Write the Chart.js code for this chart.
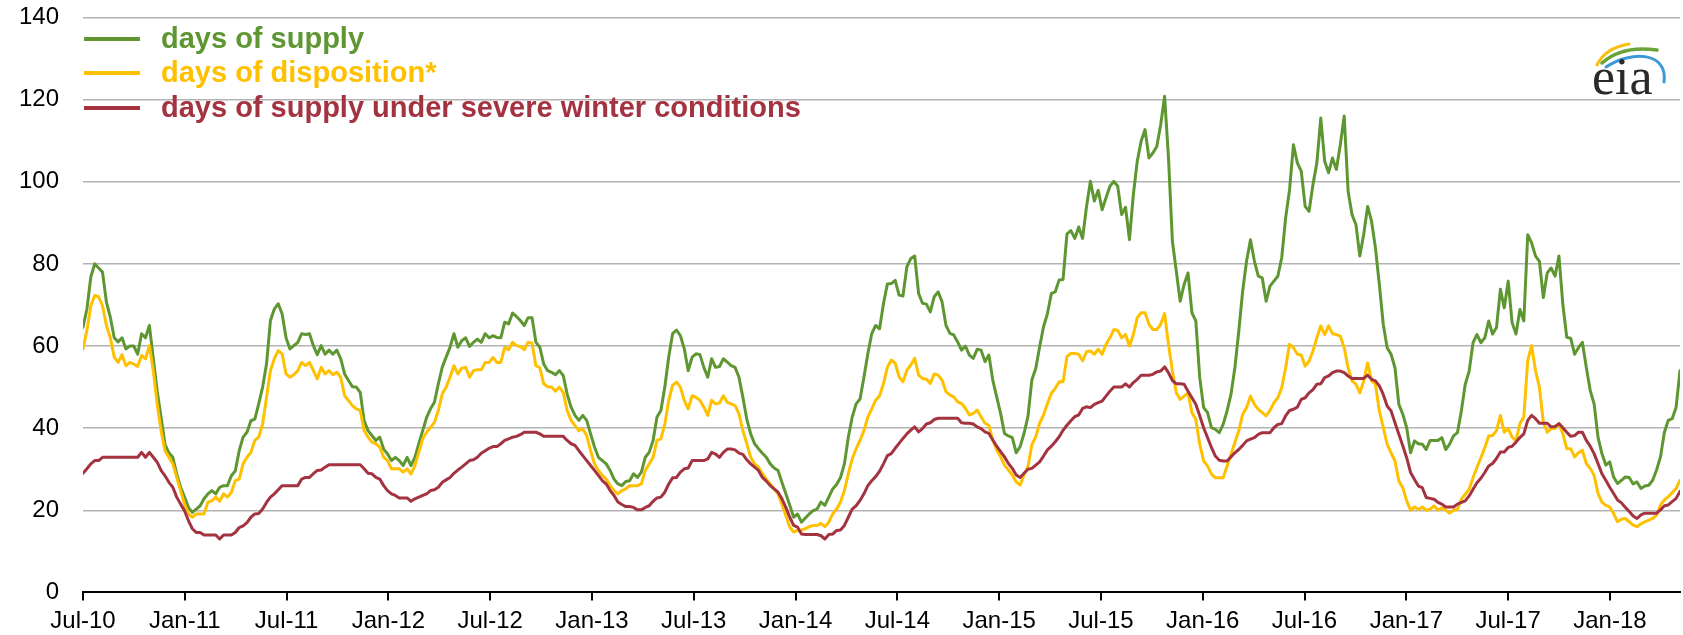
<!DOCTYPE html>
<html>
<head>
<meta charset="utf-8">
<script src="https://cdn.jsdelivr.net/npm/chart.js@4/dist/chart.umd.min.js"></script>
<style>
  html, body { margin: 0; padding: 0; background: #ffffff; }
  #wrap { width: 1683px; height: 635px; }
</style>
</head>
<body>
<div id="wrap"><canvas id="c" width="1683" height="635"></canvas></div>
<script>
// ---- Data (weekly, starting first week of July 2010) ----
const seriesNames = ['days of supply', 'days of disposition*', 'days of supply under severe winter conditions'];
const tickLabels = ['Jul-10','Jan-11','Jul-11','Jan-12','Jul-12','Jan-13','Jul-13','Jan-14','Jul-14','Jan-15','Jul-15','Jan-16','Jul-16','Jan-17','Jul-17','Jan-18'];

const daysOfSupply = [
64.6, 69, 76.8, 80, 79, 78, 70.7, 67, 62, 61, 62, 59.3, 60, 60, 58, 63, 62, 65, 57, 49, 42.6, 36, 34, 32.9, 28.8, 25.6, 23.2, 20.7, 19.5, 20.3, 21.1, 22.8, 24, 24.8, 24, 25.6, 26, 26, 28.4, 29.6, 34.5, 37.8, 39, 41.8, 42.2, 45.9, 50, 55.6, 66.2, 69, 70.3, 67.8, 62, 59.3,
60.1, 60.9, 63, 62.8, 63, 60.1, 57.9, 60.1, 58, 59, 58, 59, 56.9, 53.2, 51.6, 50.1, 50, 48.7, 41.8, 39.4, 38.2, 37, 37.8, 34.9, 33.7, 32.1, 32.9, 32.1, 30.9, 32.9, 30.9, 32.9, 36.2, 39.4, 42.6, 44.7, 46.3, 50.8, 54.8, 57.3, 59.7, 63, 59.7, 61.3, 62, 59.9, 60.9, 61.7, 60.9, 63, 62, 62.5,
62.1, 62, 65.8, 65.4, 68, 67.2, 66.2, 65, 66.9, 66.9, 60.9, 59.7, 55.6, 54, 53.6, 53, 54, 52.8, 48.3, 45.1, 43.1, 41.9, 43.1, 41.9, 38.6, 35.4, 32.9, 32.1, 31.3, 29.7, 27.6, 26.4, 26, 27, 27.2, 28.9, 28, 29.3, 32.9, 34.1, 37, 42.7, 44.3, 50, 57.3, 63, 63.9, 62.5, 59.3, 54,
57.3, 58.1, 57.9, 54.8, 52.4, 56.9, 54.8, 55, 56.9, 56.1, 55.2, 54.8, 52.4, 47.5, 42.2, 38.6, 36.2, 35, 33.9, 32.9, 31.3, 30.3, 29.7, 26.8, 24, 21.2, 18.3, 19.1, 17.1, 18.1, 19.1, 19.9, 20.3, 22, 21.2, 23.2, 25.2, 26.3, 28, 31.3, 37.8, 42.7, 45.9, 47.1, 52.4, 58.1, 63, 65, 64.2, 70.3, 75.1,
75.2, 76, 72.4, 72.2, 79.3, 81.3, 81.9, 72.8, 70.4, 70.2, 68.3, 72, 73.2, 70.8, 65.1, 63.1, 62.7, 61, 59, 60, 57.8, 57, 59.2, 59, 56.2, 57.8, 51.7, 47.6, 43.6, 38.7, 38.1, 37.7, 34, 35.5, 38.7, 42.8, 51.7, 54.5, 59.8, 64.7, 67.9, 72.8, 73.2, 76.1, 76.2, 87.3, 88.1, 86.2, 89, 86.2, 93.9,
100.1, 95.3, 97.9, 93.2, 96.1, 98.9, 100.1, 98.9, 92, 93.8, 85.9, 96.9, 105, 109.9, 112.7, 105.8, 107, 108.6, 113.9, 120.8, 105.8, 85.5, 78.2, 70.9, 75, 77.8, 68.1, 66.1, 52.3, 45, 43.8, 40.1, 39.7, 38.9, 40.9, 44.2, 48.2, 54.7, 63.6, 73.4, 80.7, 85.9, 80.7, 77, 76.6, 70.9, 74.6, 75.8, 77, 81.5, 91.2, 98,
109, 104.6, 102.6, 94, 92.8, 99.3, 104.6, 115.5, 105, 102.2, 105.8, 103, 109, 116, 97.7, 92, 89.6, 81.9, 87.2, 94, 90.4, 83.9, 75, 65.3, 59.6, 58, 54.7, 45.8, 43.4, 40.1, 34, 36.9, 36.2, 36.1, 34.8, 37, 37, 37, 37.7, 34.8, 36.1, 38.1, 38.9, 44.2, 50.7, 53.9, 60.8, 62.8, 60.8, 62, 66.1,
62.9, 64.5, 73.8, 69.3, 75.8, 65.7, 62.9, 68.9, 66.1, 87.1, 85.1, 81.9, 80.6, 71.8, 77.8, 79, 77, 81.9, 70.1, 62.1, 61.9, 58, 59.6, 60.9, 54.8, 49.2, 45.9, 37.8, 33.8, 31, 31.8, 28.1, 26.5, 27.3, 28.1, 28, 26.4, 26.9, 25.3, 25.9, 26.1, 27.3, 29.8, 33, 39, 41.9, 42.3, 45.1, 54
];

const daysOfDisposition = [
59.3, 63.8, 69.8, 72.3, 72, 69.8, 65, 62, 57.3, 56, 57.9, 55.2, 56, 55.6, 55, 57.7, 56.9, 60.1, 54, 45.9, 39.4, 34.5, 32.9, 31.3, 28, 24.8, 21.5, 19.1, 18.3, 19.1, 19.1, 19.1, 22, 22.3, 23.2, 22.2, 24, 23.2, 24.4, 27.2, 27.6, 31.3, 32.9, 34.1, 37, 37.8, 41, 47.5, 54, 56.9, 58.9, 58.1, 53.2, 52.4,
53, 54, 56, 55.2, 56, 54, 52, 54.8, 53.2, 54, 53, 53.6, 52.4, 47.9, 46.7, 45.5, 44.7, 44.3, 39.4, 37.8, 36.6, 36.2, 35.4, 32.9, 32.1, 30.1, 30.1, 30.1, 29.3, 30.1, 28.8, 30.9, 34.1, 37.4, 39, 40.2, 41.4, 44.3, 48.3, 50, 52.4, 55.2, 53.2, 54.6, 54.8, 52.4, 54, 54.2, 54.2, 56, 56, 57.2,
56, 56, 59.7, 59.1, 60.9, 60.1, 59.9, 59.1, 60.9, 60.7, 55.2, 54.7, 50.8, 50.1, 50, 49, 50, 48.7, 44.3, 41.9, 40.6, 39.4, 39.8, 38.2, 34.5, 31.3, 29.7, 28.5, 27.6, 26, 24.8, 24, 24.8, 25.2, 26, 26, 26, 26.4, 29.7, 31.3, 32.9, 37, 37.4, 41, 46.7, 50.4, 51.2, 50, 46.7, 44.7,
47.9, 47.5, 46.8, 45.1, 43.1, 46.8, 45.9, 46.1, 47.9, 46.3, 45.9, 45.5, 43.5, 39.4, 36.2, 32.9, 31.3, 30.5, 28.9, 27.6, 26.4, 25.2, 24, 21.5, 18.7, 15.9, 14.7, 15.1, 15.2, 15.5, 16, 16.3, 16.3, 16.8, 16, 17.1, 19.1, 20.3, 22, 24.8, 28.9, 32.5, 35, 37, 39.4, 42.7, 44.7, 46.8, 47.9, 50.8, 54.8,
56.6, 55.8, 52.5, 51.3, 54.1, 55.4, 57, 52.9, 52.1, 51.9, 50.9, 53.2, 52.9, 51.7, 48.9, 48.1, 47.6, 46.4, 46, 44.8, 43.2, 43.6, 44.4, 42.8, 41.2, 40.7, 37.1, 34.7, 33, 31, 29.8, 28.6, 26.9, 26.1, 28.6, 30.6, 35.9, 37.9, 41.2, 43.2, 46, 48.5, 49.7, 51.3, 51.3, 57.4, 58.2, 58.2, 58, 56.4, 58.6,
58.8, 58, 59.2, 58, 60.4, 62, 64, 63.8, 62, 62.8, 60, 62.8, 66.9, 68.1, 68.1, 65.3, 64, 64, 65.3, 67.9, 60.4, 53.9, 48.6, 47, 47.8, 48.6, 43.8, 42.1, 36.1, 32, 30.8, 28.8, 27.9, 27.9, 27.9, 30.8, 33.6, 36.5, 39.3, 43.4, 45, 47.8, 45.8, 44.6, 43.8, 43, 44.3, 46.2, 47.4, 49.8, 54.7, 60.4,
59.6, 58, 57.8, 55.1, 56.3, 58.8, 62, 64.9, 62.8, 64.9, 63, 62.8, 62.4, 59.6, 54.7, 51.5, 50.7, 48.6, 51.5, 55.9, 51.5, 50.7, 44.2, 40.1, 36.1, 34, 32, 27.1, 25.5, 22.3, 20, 20.8, 20.2, 20.8, 20, 20.2, 21.1, 20, 20.6, 20, 19.3, 20, 20.2, 22.7, 23.9, 25.1, 27.9, 30.4, 32.8, 35.2, 38.1,
38.2, 39.4, 43.1, 39, 39.9, 37.8, 37, 41.1, 42.7, 56.5, 60.1, 54, 49.9, 41.5, 39, 39.9, 39.9, 41.1, 38.6, 35, 35, 33, 34, 34.6, 31.4, 30.2, 28.5, 24.1, 22, 21.2, 20.8, 19.2, 17.2, 17.8, 18, 17.2, 16.4, 16, 16.7, 17.2, 17.6, 18, 18.8, 21.3, 22.5, 23.3, 24.3, 25.3, 27.3
];

const daysSevereWinter = [
29, 30.1, 31.3, 32.1, 32.1, 32.9, 32.9, 32.9, 32.9, 32.9, 32.9, 32.9, 32.9, 32.9, 32.9, 34.1, 32.9, 34.1, 32.9, 31.7, 29.7, 28.4, 26.8, 25.6, 23.2, 21.5, 19.9, 17.5, 15.5, 14.6, 14.6, 14, 14, 14, 14, 13, 14, 14, 14, 14.6, 15.8, 16.2, 17, 18.3, 19.1, 19.2, 20.3, 21.9, 23.2, 24, 25, 26, 26, 26,
26, 26, 27.6, 28, 28, 28.9, 29.7, 29.8, 30.5, 31.1, 31.1, 31.1, 31.1, 31.1, 31.1, 31.1, 31.1, 31.1, 30.1, 29, 28.9, 28, 27.6, 26, 24.8, 24, 23.6, 23, 23, 23, 22.2, 22.8, 23.2, 23.6, 24, 24.8, 25, 25.6, 26.8, 27.4, 28, 29, 29.8, 30.5, 31.3, 32.1, 32.3, 32.9, 33.9, 34.5, 35.1, 35.5,
35.5, 36.2, 37, 37.4, 37.8, 38, 38.4, 39, 39, 39, 39, 38.6, 38, 38, 38, 38, 38, 38, 37, 36.2, 35.8, 34.5, 33.3, 32.1, 30.9, 29.7, 28.5, 27.2, 26.4, 24.8, 23.6, 22, 21.4, 20.9, 20.9, 20.7, 20.1, 20.1, 20.7, 21.1, 22.2, 23, 23.2, 24.4, 26.4, 27.9, 28, 29.3, 30.1, 30.3,
32.1, 32.1, 32.1, 32.1, 32.5, 34.1, 33.7, 32.9, 34.1, 34.9, 34.9, 34.7, 33.9, 33.6, 32.3, 31.3, 30.5, 29.7, 28, 27.1, 26, 25.2, 24.4, 22.8, 20.7, 18.3, 16.3, 15.9, 14.2, 14.1, 14.1, 14.1, 14.1, 13.8, 13, 14.1, 14.2, 15.1, 15.2, 16.3, 18.3, 20.3, 21.1, 22.4, 24, 26, 27.2, 28.2, 29.5, 31.3, 33.3,
33.8, 35.1, 36.3, 37.5, 38.6, 39.5, 40.3, 39.1, 39.9, 41, 41.3, 42.1, 42.4, 42.4, 42.4, 42.4, 42.4, 42.4, 41.3, 41.2, 41.2, 41, 40.3, 39.9, 39.1, 38.7, 37.1, 35.6, 34.3, 33, 31.4, 30.2, 28.6, 28, 29, 30, 30.2, 31, 31.8, 33.2, 34.7, 35.6, 36.7, 37.9, 39.5, 40.7, 41.8, 42.8, 43.2, 44.8, 45.2,
45, 45.8, 46.2, 46.6, 47.8, 49, 50, 50, 50, 50.8, 50, 51.1, 51.9, 52.9, 52.9, 52.9, 53.1, 53.7, 53.9, 54.9, 53.5, 51.6, 50.8, 50.8, 50.7, 49, 47.4, 45.8, 43, 40.1, 37.7, 35.3, 33.2, 32.2, 32, 32, 33, 34, 34.8, 35.8, 36.9, 37.3, 37.7, 38.5, 38.9, 38.9, 38.9, 40.1, 40.9, 41.1, 43, 44.3,
44.6, 45.1, 47, 47.4, 48.6, 49.4, 50.7, 50.8, 52.3, 52.7, 53.5, 53.9, 53.9, 53.5, 52.7, 52.1, 52.1, 52.1, 52.1, 52.9, 51.9, 51.5, 50.3, 48.2, 45.4, 44.2, 41.3, 38.5, 35.7, 32.8, 29.2, 27.5, 25.9, 25.5, 23.1, 22.9, 22.7, 21.9, 21.5, 20.8, 20.8, 20.8, 21.5, 21.9, 22.3, 23.5, 25.1, 26.7, 27.8, 29.2, 30.8,
31.4, 32.6, 34.2, 34.2, 35.3, 35.6, 36.6, 37.7, 38.6, 41.9, 43.1, 42.3, 41.2, 41.2, 41.2, 40.3, 40.4, 41.1, 40.1, 39, 38, 38.2, 39, 39, 37, 35.6, 33.8, 31.4, 28.9, 27.3, 25.6, 24.1, 22.5, 21.8, 20.7, 19.7, 18.6, 18, 18.9, 19.3, 19.3, 19.3, 19.3, 20.1, 21.1, 21.3, 22.1, 22.9, 24.6
];

const seriesColors = ['#5E9732', '#FFC000', '#A33340'];
const weeksPerHalfYear = 26.07;

// ---- build datasets ----
const toPoints = arr => arr.map((v, i) => ({ x: i, y: v }));
const allSeries = [daysOfSupply, daysOfDisposition, daysSevereWinter];
const lastIndex = Math.max(...allSeries.map(a => a.length)) - 1;

const FONT = "'Liberation Sans', Arial, Helvetica, sans-serif";

const legendPlugin = {
  id: 'customLegend',
  afterDraw(chart) {
    const ctx = chart.ctx;
    const ys = [39, 73, 108];
    ctx.save();
    seriesNames.forEach((name, i) => {
      ctx.strokeStyle = seriesColors[i];
      ctx.lineWidth = 4;
      ctx.beginPath();
      ctx.moveTo(84, ys[i]);
      ctx.lineTo(140, ys[i]);
      ctx.stroke();
      ctx.fillStyle = seriesColors[i];
      ctx.font = "bold 29px " + FONT;
      ctx.textBaseline = 'middle';
      ctx.textAlign = 'left';
      ctx.fillText(name, 161, ys[i] + 1);
    });
    ctx.restore();
  }
};

const logoPlugin = {
  id: 'eiaLogo',
  afterDraw(chart) {
    const ctx = chart.ctx;
    ctx.save();
    ctx.lineCap = 'round';
    ctx.strokeStyle = '#F4C20D';
    ctx.lineWidth = 3;
    ctx.beginPath();
    ctx.moveTo(1597, 65);
    ctx.quadraticCurveTo(1605, 48, 1629, 44);
    ctx.stroke();
    ctx.strokeStyle = '#6AA33A';
    ctx.lineWidth = 3.5;
    ctx.beginPath();
    ctx.moveTo(1602, 63);
    ctx.quadraticCurveTo(1622, 45, 1657, 50);
    ctx.stroke();
    ctx.strokeStyle = '#3A9AD9';
    ctx.lineWidth = 3;
    ctx.beginPath();
    ctx.moveTo(1606, 67);
    ctx.bezierCurveTo(1632, 50, 1668, 52, 1664, 82);
    ctx.stroke();
    ctx.fillStyle = '#2a2a2a';
    ctx.font = "52px 'Liberation Serif', 'DejaVu Serif', serif";
    ctx.textAlign = 'left';
    ctx.textBaseline = 'alphabetic';
    ctx.fillText('eia', 1592, 94);
    ctx.restore();
  }
};

new Chart(document.getElementById('c'), {
  type: 'line',
  data: {
    // reversed so the first series is drawn underneath (red on top)
    datasets: allSeries.map((arr, i) => ({
      label: seriesNames[i],
      data: toPoints(arr),
      borderColor: seriesColors[i],
      backgroundColor: seriesColors[i],
      borderWidth: 3,
      pointRadius: 0,
      pointHoverRadius: 0,
      tension: 0,
      fill: false,
      borderJoinStyle: 'round',
      borderCapStyle: 'round'
    })).reverse()
  },
  options: {
    responsive: false,
    devicePixelRatio: 1,
    animation: false,
    events: [],
    layout: { padding: { top: 17.5, right: 3, bottom: 0, left: 0 } },
    plugins: { legend: { display: false }, tooltip: { enabled: false } },
    scales: {
      x: {
        type: 'linear',
        min: 0,
        max: lastIndex,
        afterBuildTicks(scale) {
          scale.ticks = tickLabels.map((_, k) => ({ value: k * weeksPerHalfYear }));
        },
        afterFit(scale) {
          scale.height = 42.6;
          scale.paddingLeft = 0;
          scale.paddingRight = 0;
        },
        grid: {
          display: true,
          drawOnChartArea: false,
          drawTicks: true,
          tickLength: 8,
          color: '#000000',
          lineWidth: 2
        },
        border: { display: true, color: '#000000', width: 2 },
        ticks: {
          autoSkip: false,
          maxRotation: 0,
          minRotation: 0,
          padding: 7,
          color: '#000000',
          font: { family: FONT, size: 24 },
          callback: (v, idx) => tickLabels[idx]
        }
      },
      y: {
        min: 0,
        max: 140,
        afterFit(scale) {
          scale.width = 83;
          scale.paddingTop = 0;
          scale.paddingBottom = 0;
        },
        ticks: {
          stepSize: 20,
          padding: 24,
          color: '#000000',
          font: { family: FONT, size: 24 }
        },
        grid: {
          drawTicks: false,
          lineWidth: 1.5,
          color: ctx => (ctx.tick && ctx.tick.value === 0) ? 'rgba(0,0,0,0)' : '#B3B3B3'
        },
        border: { display: false }
      }
    }
  },
  plugins: [legendPlugin, logoPlugin]
});
</script>
</body>
</html>
